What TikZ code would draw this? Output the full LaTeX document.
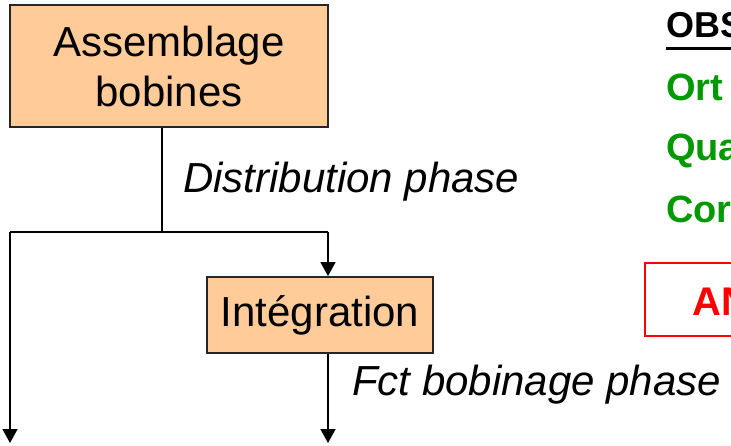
\documentclass[tikz,border=0pt]{standalone}
\usepackage{fontspec}
\setmainfont{Liberation Sans}
\usetikzlibrary{arrows.meta}
\definecolor{boxfill}{HTML}{FFCC99}
\definecolor{obsgreen}{HTML}{009900}
\definecolor{anred}{HTML}{FF0000}
\begin{document}
\begin{tikzpicture}[x=1pt,y=-1pt,
  procbox/.style={draw=black!85,line width=1.8pt,fill=boxfill,inner sep=0pt,align=center,
    font=\fontsize{42}{50}\selectfont},
  conn/.style={line width=1.5pt,black},
  arr/.style={conn,-{Triangle[length=14pt,width=15pt]}},
  lbl/.style={inner sep=0pt,anchor=base west,font=\fontsize{42}{50}\selectfont\itshape},
  greentxt/.style={inner sep=0pt,anchor=base west,text=obsgreen,font=\fontsize{38}{44}\selectfont\bfseries},
]
\useasboundingbox (0,0) rectangle (731,445);
\clip (0,0) rectangle (731,445);
% boxes
\node[procbox,minimum width=318pt,minimum height=122pt] (asm) at (169,66) {Assemblage\\bobines};
\node[procbox,minimum width=226pt,minimum height=76pt] (int) at (320,315) {Intégration};
% junction coordinates
\coordinate (j) at (162,232);
\coordinate (jl) at (10,232);
\coordinate (jr) at (328,232);
\coordinate (endl) at (10,443);
\coordinate (endr) at (328,443);
% connectors
\draw[conn] (j |- asm.south) -- (j);
\draw[conn] (jl) -- (jr);
\draw[arr] (jl) -- (endl);
\draw[arr] (jr) -- (jr |- int.north);
\draw[arr] (jr |- int.south) -- (endr);
% labels
\node[lbl] (dist) at (183,192) {Distribution phase};
\node[lbl] (fct) at (352,395) {Fct bobinage phase};
% right column
\node[inner sep=0pt,anchor=base west,font=\fontsize{36}{42}\selectfont\bfseries] (obs) at (666,37) {OBS};
\draw[line width=3pt,black] (666,48) -- (740,48);
\node[greentxt] (ort) at (666,100) {Ort};
\node[greentxt] (qua) at (666,160) {Qua};
\node[greentxt] (cor) at (666,222) {Cor};
\draw[anred,line width=2pt] (645,263) rectangle (760,336);
\node[inner sep=0pt,anchor=base west,text=anred,font=\fontsize{40}{46}\selectfont\bfseries] (an) at (692,315) {AN};
\end{tikzpicture}
\end{document}
